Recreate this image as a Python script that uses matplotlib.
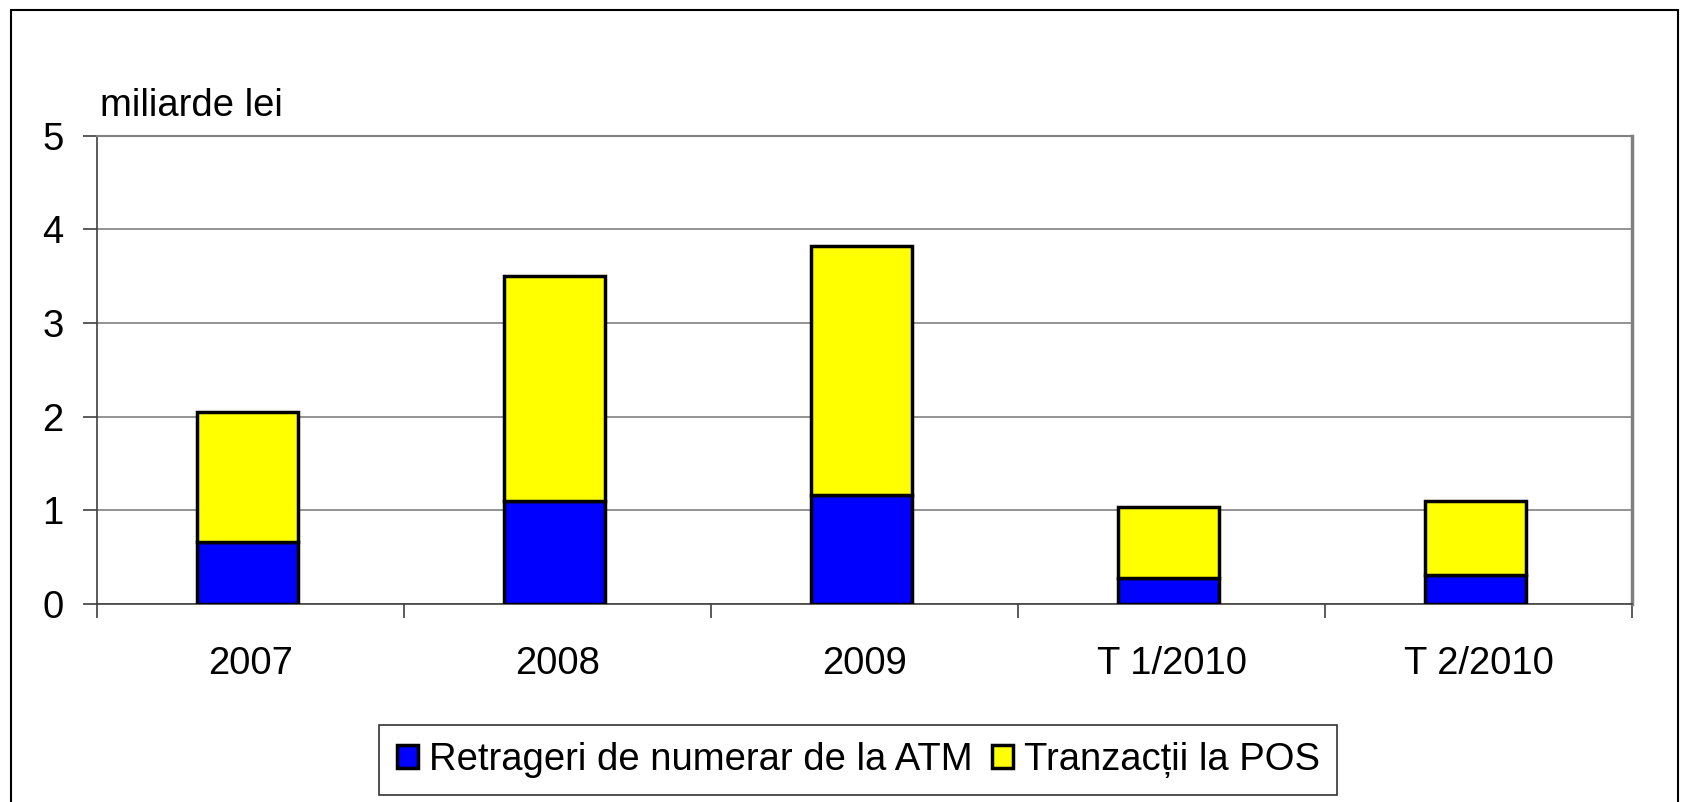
import matplotlib.pyplot as plt
import numpy as np
from matplotlib.patches import Rectangle

plt.rcParams["font.family"] = ["Liberation Sans", "DejaVu Sans"]

categories = ["2007", "2008", "2009", "T 1/2010", "T 2/2010"]
atm = [0.66, 1.10, 1.16, 0.28, 0.31]
pos_total = [2.05, 3.50, 3.82, 1.03, 1.10]
pos = [t - a for t, a in zip(pos_total, atm)]

fs = 27.5

fig = plt.figure(figsize=(16.88, 8.02), dpi=100)
ax = fig.add_axes([0.0574, 0.247, 0.9096, 0.584])

x = np.arange(len(categories))
ax.bar(x - 0.01, atm, width=0.33, color="#0000ff", edgecolor="black", linewidth=2.5,
       label="Retrageri de numerar de la ATM", zorder=3)
ax.bar(x - 0.01, pos, width=0.33, bottom=atm, color="#ffff00", edgecolor="black",
       linewidth=2.5, label="Tranzacții la POS", zorder=3)

ax.set_xlim(-0.5, len(categories) - 0.5)
ax.set_ylim(0, 5)
ax.set_yticks([0, 1, 2, 3, 4, 5])
ax.yaxis.grid(True, color="#808080", linewidth=1.2, zorder=0)

# category ticks at the boundaries, labels centred
ax.set_xticks(np.arange(-0.5, len(categories), 1.0))
ax.set_xticklabels([])
ax.set_xticks(x, minor=True)
ax.set_xticklabels(categories, minor=True)
ax.tick_params(axis="x", which="minor", length=0, pad=30, labelsize=fs)
ax.tick_params(axis="x", which="major", length=10, width=1.2, color="#404040")
ax.tick_params(axis="y", length=10, width=1.2, color="#404040", labelsize=fs, pad=14)

for side in ["top", "right"]:
    ax.spines[side].set_color("#808080")
    ax.spines[side].set_linewidth(1.5)
ax.spines["right"].set_linewidth(2.5)
for side in ["left", "bottom"]:
    ax.spines[side].set_color("#404040")
    ax.spines[side].set_linewidth(1.2)

ax.text(0.002, 1.025, "miliarde lei", transform=ax.transAxes, fontsize=fs,
        ha="left", va="bottom")

leg = fig.legend(loc="center", bbox_to_anchor=(0.5085, 0.0524), ncol=2,
                 fontsize=fs, frameon=True, fancybox=False, edgecolor="black",
                 handlelength=0.55, handleheight=0.55, handletextpad=0.3,
                 columnspacing=0.5, borderpad=0.45)
leg.get_frame().set_linewidth(1.2)

fig.patches.append(Rectangle((0.0068, -0.02), 0.987, 1.007, transform=fig.transFigure,
                             fill=False, edgecolor="black", linewidth=1.5))

fig.savefig("out.png", dpi=100, facecolor="white")
